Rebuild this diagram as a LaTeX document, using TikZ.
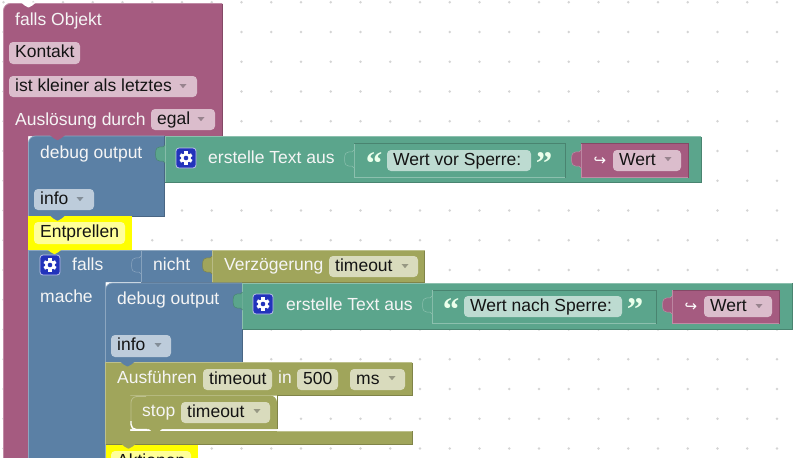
\documentclass[tikz,border=0pt]{standalone}
\usepackage{fontspec}
\setmainfont{Liberation Sans}
\newfontfamily\qfont{Liberation Serif}
\newfontfamily\dvfont{DejaVu Sans}
\definecolor{pur}{HTML}{A55B80}\definecolor{purL}{HTML}{C08CA6}\definecolor{purD}{HTML}{844966}\definecolor{purF}{HTML}{DBBDCC}
\definecolor{blu}{HTML}{5B80A5}\definecolor{bluL}{HTML}{8CA6C0}\definecolor{bluD}{HTML}{496684}\definecolor{bluF}{HTML}{BDCCDB}
\definecolor{grn}{HTML}{5BA58C}\definecolor{grnL}{HTML}{8CC0AE}\definecolor{grnD}{HTML}{498470}\definecolor{grnF}{HTML}{BDDBD1}
\definecolor{olv}{HTML}{A0A55B}\definecolor{olvL}{HTML}{BDC08C}\definecolor{olvD}{HTML}{808449}\definecolor{olvF}{HTML}{D9DBBD}
\definecolor{yel}{HTML}{FFFF00}\definecolor{yelF}{HTML}{FFFF99}
\definecolor{icon}{HTML}{2233BB}
\tikzset{
  x=1pt,y=-1pt,
  lbl/.style={anchor=base west,inner sep=0pt,text=white!96!black,font=\fontsize{17.5}{17.5}\selectfont},
  ftxt/.style={anchor=base west,inner sep=0pt,text=black!92,font=\fontsize{17.5}{17.5}\selectfont},
  fieldbg/.style={rounded corners=4pt},
  griddot/.style={fill=black!17},
  quot/.style={anchor=base,inner sep=0pt,text=white!92!green,font=\qfont\bfseries\fontsize{33}{33}\selectfont},
  hook/.style={anchor=base,inner sep=0pt,text=white,font=\dvfont\fontsize{15}{15}\selectfont},
}
% field: name,x1,y1,x2,y2,colour,text
\newcommand{\fld}[7]{%
  \fill[#6,fieldbg] (#2,#3) rectangle (#4,#5);
  \node[ftxt] (#1) at (#2+6,#3+15) {#7};}
\newcommand{\drop}[2]{\fill[black,opacity=.3] (#1-3.5,#2-2) -- (#1+3.5,#2-2) -- (#1,#2+2.2) -- cycle;}
% left puzzle tab: x, top y, fill, edge
\newcommand{\tabpiece}[4]{%
  \filldraw[fill=#3,draw=#4,line width=.5pt] (#1,#2) .. controls (#1-1,#2+5) and (#1-9.5,#2-3) .. (#1-9.5,#2+9)
    .. controls (#1-9.5,#2+21) and (#1-1,#2+13) .. (#1,#2+18);}
% notch: x, y, colour
\newcommand{\notch}[3]{\fill[#3] (#1,#2-.4) .. controls (#1+3,#2+1) and (#1+4,#2+4.5) .. (#1+7,#2+4.5)
    -- (#1+8,#2+4.5) .. controls (#1+11,#2+4.5) and (#1+12,#2+1) .. (#1+15,#2-.4) -- cycle;}
\newcommand{\gear}[2]{%
  \fill[icon,draw=white!70!icon,line width=.8pt,rounded corners=3pt] (#1-10,#2-10) rectangle (#1+10,#2+10);
  \foreach \a in {0,60,...,300}{\fill[white,rotate around={\a:(#1,#2)}] (#1-1.6,#2-6.6) rectangle (#1+1.6,#2-3);}
  \fill[white] (#1,#2) circle[radius=5];
  \fill[icon] (#1,#2) circle[radius=2.3];}
\newcommand{\edges}[5]{% x1,y1,x2,y2, colour base name
  \draw[#5L,line width=.9pt] (#1,#4) -- (#1,#2) -- (#3,#2);
  \draw[#5D,line width=.9pt] (#3,#2) -- (#3,#4) -- (#1,#4);}
\begin{document}
\begin{tikzpicture}
\clip (0,0) rectangle (796,458);
\fill[white] (0,0) rectangle (796,458);
% grid dots
\foreach \i in {0,...,26}{\foreach \j in {0,...,15}{
  \fill[griddot] ({3.5+29.75*\i},{2.25+29.75*\j}) circle[radius=1.4];}}
% outer purple block
\fill[pur,rounded corners=7pt] (3.5,470) -- (3.5,3.5) -- (14,3.5) [sharp corners] -- (222,3.5) -- (222,136) -- (28,136) -- (28,470) -- cycle;
\draw[purD,line width=.8pt] (222,3.5) -- (222,136);
\draw[purL,line width=.8pt,rounded corners=7pt] (3.5,470) -- (3.5,3.5) -- (222,3.5);
\notch{21}{2.8}{white}
\node[lbl] (t1) at (15,25) {falls Objekt};
\fld{f1}{9}{42}{80}{64}{purF}{Kontakt}
\fld{f2}{9}{76}{197}{97}{purF}{ist kleiner als letztes}\drop{183}{86}
\node[lbl] (t2) at (15,125) {Auslösung durch};
\fld{f3}{151}{109}{215}{130}{purF}{egal}\drop{201}{119}
% first debug block
\fill[blu,rounded corners=7pt] (28.5,216) -- (28.5,136) -- (40,136) [sharp corners] -- (164.5,136) -- (164.5,216) -- cycle;
\draw[bluL,line width=.8pt,rounded corners=7pt] (28.5,216) -- (28.5,136) -- (164.5,136);
\draw[bluD,line width=.8pt] (164.5,136) -- (164.5,216) -- (28.5,216);
\notch{50}{135.5}{pur}
\node[lbl] (t3) at (40,158) {debug output};
\fld{f4}{34}{189}{94}{210}{bluF}{info}\drop{80}{199}
% first green block
\fill[grn] (165,136.5) rectangle (701,182);\edges{165}{136.5}{701}{182}{grn}
\tabpiece{165}{145}{grn}{grnD}
\gear{186}{158}
\node[lbl] (t4) at (208,163.5) {erstelle Text aus};
\filldraw[fill=grn,draw=grnD,line width=.6pt] (354,143.5) rectangle (565,177);
\draw[grnL,line width=.7pt] (354,143.5) -- (354,177) -- (565,177);
\tabpiece{354}{150}{grn}{grnL}
\node[quot] (q1) at (374,174) {“};
\fld{f5}{387}{150}{531}{171}{grnF}{Wert vor Sperre:}
\node[quot] (q2) at (544,174) {”};
\filldraw[fill=pur,draw=purD,line width=.6pt] (581,143.5) rectangle (688,177);
\draw[purL,line width=.7pt] (581,143.5) -- (581,177) -- (688,177);
\tabpiece{581}{150}{pur}{purL}
\node[hook] (h1) at (600,165) {↪};
\fld{f6}{613}{150}{681}{171}{purF}{Wert}\drop{668}{159}
% Entprellen
\fill[yel] (28,216) rectangle (132,250);
\notch{50}{216}{blu}
\fld{f7}{34}{222}{125}{244}{yelF}{Entprellen}
% falls block
\fill[blu] (28.5,250) -- (141,250) -- (141,282) -- (105.5,282) -- (105.5,470) -- (28.5,470) -- cycle;
\draw[bluL,line width=.8pt] (28.5,470) -- (28.5,250) -- (141,250);
\notch{47}{249.5}{yel}
\gear{50}{265}
\node[lbl] (t5) at (72,270.7) {falls};
\node[lbl] (t6) at (40,302.7) {mache};
% nicht
\fill[blu] (141,250) rectangle (212,282);\edges{141}{250}{212}{282}{blu}
\tabpiece{141}{256}{blu}{bluL}
\node[lbl] (t7) at (153,270.7) {nicht};
% Verzoegerung
\fill[olv] (212,250.5) rectangle (424.5,282);\edges{212}{250.5}{424.5}{282}{olv}
\tabpiece{212}{256}{olv}{olvD}
\node[lbl] (t8) at (224,270.7) {Verzögerung};
\fld{f8}{329}{256}{418}{277}{olvF}{timeout}\drop{405}{266}
% second debug block
\fill[blu,rounded corners=7pt] (105.5,362) -- (105.5,283) -- (117,283) [sharp corners] -- (242,283) -- (242,362) -- cycle;
\draw[bluL,line width=.8pt,rounded corners=7pt] (105.5,362) -- (105.5,283) -- (242,283);
\draw[bluD,line width=.8pt] (242,283) -- (242,362);
\node[lbl] (t9) at (117,304) {debug output};
\fld{f9}{111}{335}{171}{357}{bluF}{info}\drop{158}{345}
% second green block
\fill[grn] (242.5,283) rectangle (792,329);\edges{242.5}{283}{792}{329}{grn}
\tabpiece{242.5}{292}{grn}{grnD}
\gear{263}{304}
\node[lbl] (t10) at (286,310) {erstelle Text aus};
\filldraw[fill=grn,draw=grnD,line width=.6pt] (432,290) rectangle (656,323.5);
\draw[grnL,line width=.7pt] (432,290) -- (432,323.5) -- (656,323.5);
\tabpiece{432}{296}{grn}{grnL}
\node[quot] (q3) at (451,320) {“};
\fld{f10}{464}{296}{622}{317}{grnF}{Wert nach Sperre:}
\node[quot] (q4) at (635,320) {”};
\filldraw[fill=pur,draw=purD,line width=.6pt] (672,290) rectangle (779,323.5);
\draw[purL,line width=.7pt] (672,290) -- (672,323.5) -- (779,323.5);
\tabpiece{672}{296}{pur}{purL}
\node[hook] (h2) at (691,311) {↪};
\fld{f11}{704}{296}{772}{317}{purF}{Wert}\drop{759}{306}
% Ausfuehren C-block
\fill[olv] (105.5,362.5) -- (412,362.5) -- (412,395.5) -- (130,395.5) -- (130,431) -- (412,431) -- (412,444) -- (105.5,444) -- cycle;
\fill[olv,rounded corners=7pt] (130,395.5) -- (277,395.5) [sharp corners] -- (277,429) -- (120,429) -- (120,395.5) -- cycle;
\draw[olvL,line width=.8pt] (105.5,444) -- (105.5,362.5) -- (412,362.5);
\draw[olvD,line width=.8pt] (412,362.5) -- (412,395.5) -- (277,395.5) -- (277,429);
\draw[olvL,line width=.8pt] (412,431) -- (277,431);
\draw[olvD,line width=.8pt] (412,431) -- (412,444) -- (105.5,444);
\draw[olvL,line width=.8pt,rounded corners=6pt] (146,396.5) -- (131,396.5) -- (131,429.5) -- (147,429.5);
\draw[white,line width=1.4pt,rounded corners=5pt] (131,421) -- (131,429.5) -- (147,429.5);
\notch{120}{361.8}{blu}
\notch{148}{428.5}{olv}
\node[lbl] (t11) at (117,383.3) {Ausführen};
\fld{f12}{203}{369}{272}{390}{olvF}{timeout}
\node[lbl] (t12) at (278,383.3) {in};
\fld{f13}{297}{369}{338}{390}{olvF}{500}
\fld{f14}{350}{369}{405}{390}{olvF}{ms}\drop{392}{378}
\node[lbl] (t13) at (142,416.7) {stop};
\fld{f15}{181}{402}{270}{423}{olvF}{timeout}\drop{257}{411}
% Aktionen
\fill[yel] (105.5,444.5) rectangle (198,470);
\notch{121}{444}{olv}
\fld{f16}{111}{451}{191}{473}{yelF}{Aktionen}
\end{tikzpicture}
\end{document}
